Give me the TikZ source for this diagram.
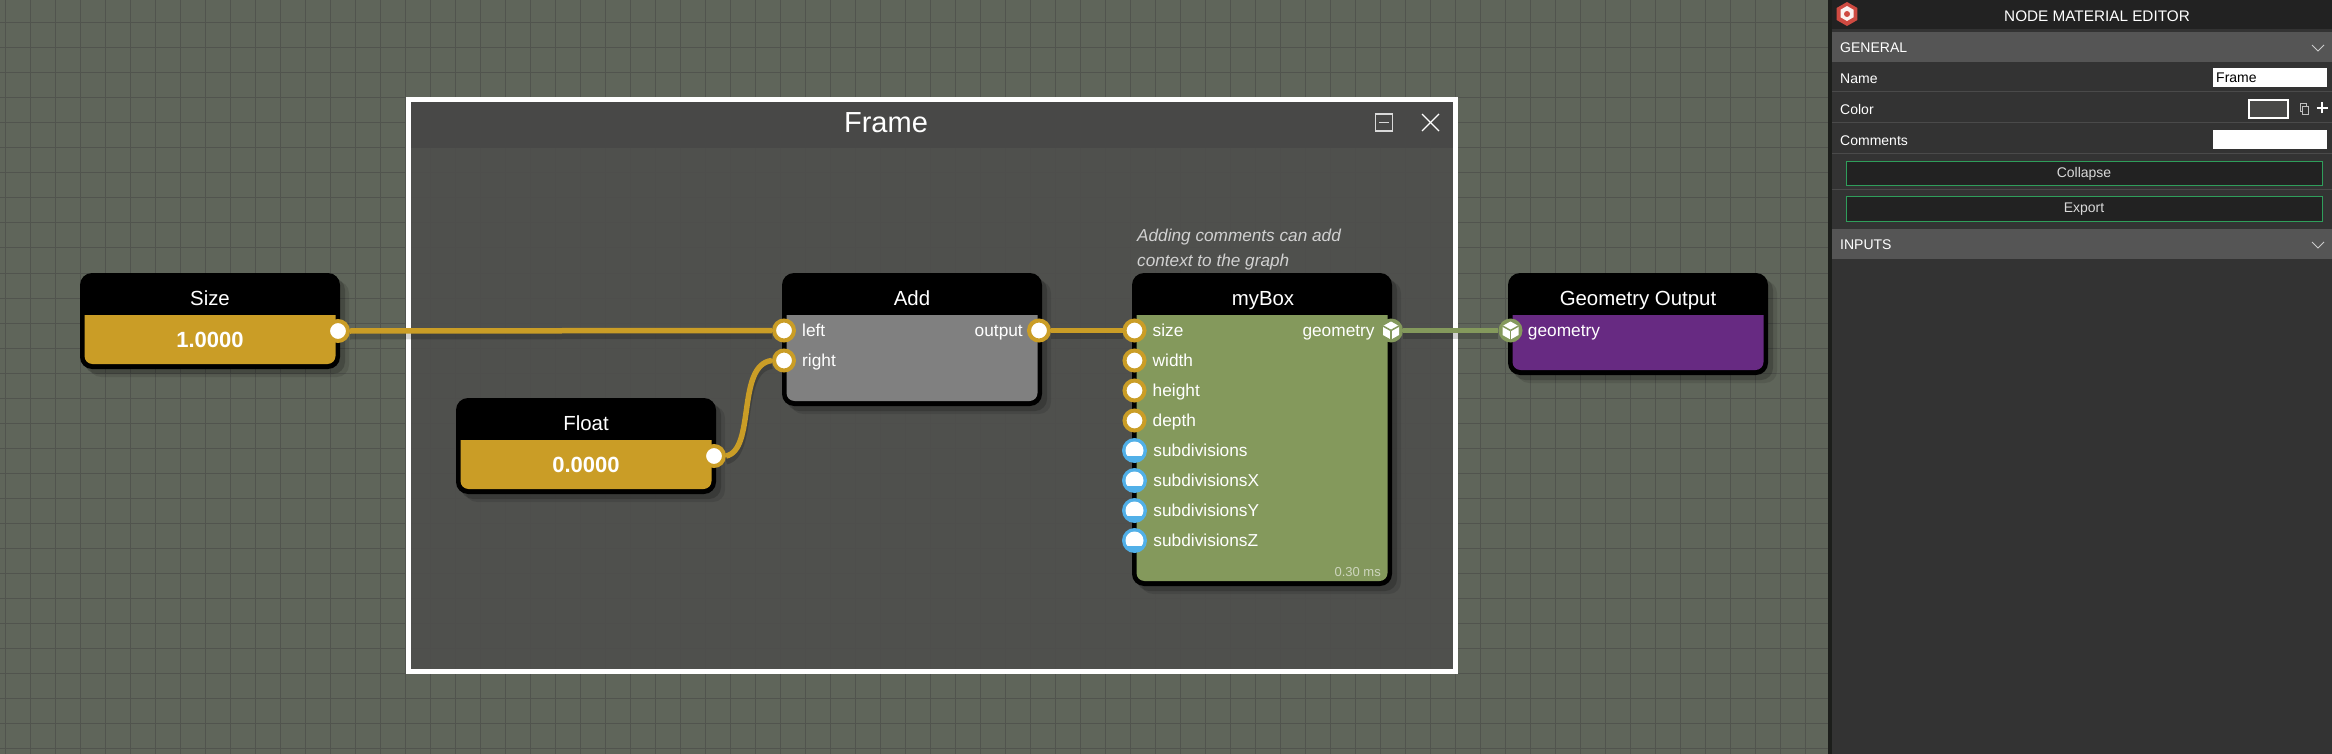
\documentclass[tikz,border=0pt]{standalone}
\usepackage{fontspec}
\setmainfont{Liberation Sans}
\usepackage{xcolor}
\usetikzlibrary{positioning,shapes.geometric,shadows}
\definecolor{gridbg}{HTML}{5F655A}
\definecolor{gridline}{HTML}{51544E}
\definecolor{framefill}{HTML}{4E4E4C}
\definecolor{framehead}{HTML}{484847}
\definecolor{gold}{HTML}{CA9D26}
\definecolor{addgrey}{HTML}{808080}
\definecolor{boxgreen}{HTML}{84995C}
\definecolor{outpurple}{HTML}{672A82}
\definecolor{intblue}{HTML}{51B0E8}
\definecolor{panelbg}{HTML}{333333}
\definecolor{panelhead}{HTML}{222222}
\definecolor{panelbar}{HTML}{555555}
\definecolor{panelrule}{HTML}{4A4A4A}
\definecolor{btngreen}{HTML}{2F9E5B}
\definecolor{logored}{HTML}{CF4A41}
\newcommand{\pxfont}[1]{\fontsize{#1}{#1}\selectfont}
\tikzset{
  blockbox/.style={
    rectangle, fill=black, rounded corners=12pt, anchor=north west,
    inner sep=0pt, outer sep=0pt,
    drop shadow={shadow xshift=9pt, shadow yshift=-8pt, opacity=.10, fill=black},
    drop shadow={shadow xshift=5pt, shadow yshift=-5pt, opacity=.18, fill=black}
  },
  titletext/.style={
    anchor=base, text=white, font=\pxfont{20.4}, inner sep=0pt
  },
  valuetext/.style={
    anchor=base, text=white, font=\pxfont{22}\bfseries, inner sep=0pt
  },
  porttext/.style={
    text=white, font=\pxfont{17.3}, inner sep=0pt, text height=14pt, text depth=2pt
  },
  goldport/.style={
    circle, draw=gold, fill=white, line width=4pt,
    minimum size=20pt, inner sep=0pt
  },
  blueport/.style={
    circle, fill=intblue, minimum size=25pt, inner sep=0pt,
    path picture={
      \begin{scope}
        \clip ([shift={(-12,-12)}]path picture bounding box.center) rectangle
          ([shift={(12,4.5)}]path picture bounding box.center);
        \fill[white] (path picture bounding box.center) circle (9);
      \end{scope}
    }
  },
  cubeport/.style={
    circle, fill=boxgreen, minimum size=24pt, inner sep=0pt,
    path picture={
      \coordinate (cc) at (path picture bounding box.center);
      \fill[white] ([shift={(0,-9)}]cc) -- ([shift={(8,-4.5)}]cc) -- ([shift={(8,4.5)}]cc)
        -- ([shift={(0,9)}]cc) -- ([shift={(-8,4.5)}]cc) -- ([shift={(-8,-4.5)}]cc) -- cycle;
      \draw[boxgreen, line width=1.5pt] (cc) -- ([shift={(0,9)}]cc);
      \draw[boxgreen, line width=1.5pt] (cc) -- ([shift={(8,-4.5)}]cc);
      \draw[boxgreen, line width=1.5pt] (cc) -- ([shift={(-8,-4.5)}]cc);
    }
  },
  wire/.style={
    line width=5.5pt, color=#1,
    preaction={draw=black, opacity=.18, line width=7pt, transform canvas={yshift=-5pt}}
  },
  wire/.default=gold,
  panelbox/.style={
    rectangle, anchor=north west, inner sep=0pt, outer sep=0pt, fill=#1
  },
  paneltext/.style={
    text=white, font=\pxfont{14}, inner sep=0pt, text height=11pt, text depth=3pt
  },
  inputbox/.style={
    rectangle, anchor=north west, fill=white, minimum width=114pt, minimum height=19pt,
    inner sep=0pt, outer sep=0pt
  },
  actionbtn/.style={
    rectangle, anchor=north west, draw=btngreen, fill=panelhead, line width=1pt,
    minimum width=476pt, minimum height=24.5pt, inner sep=0pt,
    text=white!85!black, font=\pxfont{14}
  },
  iconline/.style={
    draw=white, line width=1.2pt
  },
}
\begin{document}
\begin{tikzpicture}[x=1pt, y=-1pt]

% Canvas and grid
\fill[gridbg] (0,0) rectangle (2332,754);
\useasboundingbox (0,0) rectangle (2332,754);
\foreach \gx in {0,...,73} {
  \draw[gridline, line width=1pt] (5+25*\gx,0) -- (5+25*\gx,754);
}
\foreach \gy in {0,...,29} {
  \draw[gridline, line width=1pt] (0,23+25*\gy) -- (1830,23+25*\gy);
}

% Frame
\node[rectangle, fill=framefill, fill opacity=.9, anchor=north west, inner sep=0pt, outer sep=0pt,
  minimum width=1047.5pt, minimum height=571.5pt] (frame) at (408,100) {};
\node[rectangle, fill=framehead, anchor=north west, inner sep=0pt, outer sep=0pt,
  minimum width=1047.5pt, minimum height=48pt] (framehdr) at (408,100) {};
\node[rectangle, draw=white, line width=5pt, anchor=north west, inner sep=0pt, outer sep=0pt,
  minimum width=1047.5pt, minimum height=571.5pt] (frameline) at (408,100) {};
\node[anchor=base, text=white, font=\pxfont{29}, inner sep=0pt] (frametitle) at (886,133) {Frame};
\node[rectangle, draw=white!85!black, line width=1.5pt, minimum size=17pt, inner sep=0pt] (minbtn) at (1384,122.5) {};
\draw[iconline, white!85!black] ([xshift=-5pt]minbtn.center) -- ([xshift=5pt]minbtn.center);
\coordinate (closebtn) at (1430.5,122.5);
\draw[iconline] ([shift={(-8.5,-8.5)}]closebtn) -- ([shift={(8.5,8.5)}]closebtn);
\draw[iconline] ([shift={(-8.5,8.5)}]closebtn) -- ([shift={(8.5,-8.5)}]closebtn);

% Size block
\node[blockbox, minimum width=260pt, minimum height=96pt] (sizebox) at (80,273) {};
\fill[gold] (84.5,315) -- (335.5,315) -- (335.5,340) [rounded corners=8pt] -- (335.5,364) -- (84.5,364) -- (84.5,340) [sharp corners] -- cycle;
\node[titletext] (sizetitle) at (210,305) {Size};
\node[valuetext] (sizevalue) at (210,347) {1.0000};
\node[goldport] (sizeout) at (338,331) {};

% Float block
\node[blockbox, minimum width=260pt, minimum height=96pt] (floatbox) at (456,398) {};
\fill[gold] (460.5,440) -- (711.5,440) -- (711.5,465) [rounded corners=8pt] -- (711.5,489) -- (460.5,489) -- (460.5,465) [sharp corners] -- cycle;
\node[titletext] (floattitle) at (586,430) {Float};
\node[valuetext] (floatvalue) at (586,472) {0.0000};
\node[goldport] (floatout) at (714,456) {};

% Add block
\node[blockbox, minimum width=260pt, minimum height=133pt] (addbox) at (782,273) {};
\fill[addgrey] (786.5,315) -- (1037.5,315) -- (1037.5,360) [rounded corners=8pt] -- (1037.5,401) -- (786.5,401) -- (786.5,360) [sharp corners] -- cycle;
\node[titletext] (addtitle) at (912,305) {Add};
\node[goldport] (addleft) at (784,330.5) {};
\node[goldport] (addright) at (784,360.5) {};
\node[goldport] (addout) at (1039,330.5) {};
\node[porttext, right=6pt of addleft] (addlefttext) {left};
\node[porttext, right=6pt of addright] (addrighttext) {right};
\node[porttext, left=4pt of addout] (addouttext) {output};

% myBox block
\node[anchor=north west, text=white!82!black, font=\pxfont{17.2}\itshape, align=left, inner sep=0pt] (boxcomment) at (1137,229) {Adding comments can add\\[8pt]context to the graph};
\node[blockbox, minimum width=260pt, minimum height=313pt] (boxbox) at (1132,273) {};
\fill[boxgreen] (1136.5,315) -- (1387.5,315) -- (1387.5,450) [rounded corners=8pt] -- (1387.5,581) -- (1136.5,581) -- (1136.5,450) [sharp corners] -- cycle;
\node[titletext] (boxtitle) at (1263,305) {myBox};
\node[goldport] (boxsize) at (1134.5,330.5) {};
\node[goldport] (boxwidth) at (1134.5,360.5) {};
\node[goldport] (boxheight) at (1134.5,390.5) {};
\node[goldport] (boxdepth) at (1134.5,420.5) {};
\node[blueport] (boxsub) at (1134.5,450.5) {};
\node[blueport] (boxsubx) at (1134.5,480.5) {};
\node[blueport] (boxsuby) at (1134.5,510.5) {};
\node[blueport] (boxsubz) at (1134.5,540.5) {};
\node[cubeport] (boxgeom) at (1391,330.5) {};
\node[porttext, right=6pt of boxsize] (boxsizetext) {size};
\node[porttext, right=6pt of boxwidth] (boxwidthtext) {width};
\node[porttext, right=6pt of boxheight] (boxheighttext) {height};
\node[porttext, right=6pt of boxdepth] (boxdepthtext) {depth};
\node[porttext, right=6pt of boxsub] (boxsubtext) {subdivisions};
\node[porttext, right=6pt of boxsubx] (boxsubxtext) {subdivisionsX};
\node[porttext, right=6pt of boxsuby] (boxsubytext) {subdivisionsY};
\node[porttext, right=6pt of boxsubz] (boxsubztext) {subdivisionsZ};
\node[porttext, left=4pt of boxgeom] (boxgeomtext) {geometry};
\node[anchor=base east, text=white!60!boxgreen, font=\pxfont{13}, inner sep=0pt] (boxtime) at (1381,576) {0.30 ms};

% Geometry Output block
\node[blockbox, minimum width=260pt, minimum height=102pt] (outbox) at (1508,273) {};
\fill[outpurple] (1512.5,315) -- (1763.5,315) -- (1763.5,340) [rounded corners=8pt] -- (1763.5,370) -- (1512.5,370) -- (1512.5,340) [sharp corners] -- cycle;
\node[titletext] (outtitle) at (1638,305) {Geometry Output};
\node[cubeport] (outgeom) at (1510.5,330.5) {};
\node[porttext, right=5pt of outgeom] (outgeomtext) {geometry};

% Connections
\draw[wire] (sizeout.east) -- (addleft.west);
\draw[wire] (addout.east) -- (boxsize.west);
\draw[wire=boxgreen] (boxgeom.east) -- (outgeom.west);
\draw[wire] (floatout.east) .. controls +(30,-6) and +(-36,4) .. (addright.west);

% Side panel
\node[panelbox=black!70!gridbg, minimum width=4pt, minimum height=754pt] (panelstrip) at (1828,0) {};
\node[panelbox=panelbg, minimum width=500pt, minimum height=754pt] (panel) at (1832,0) {};
\node[panelbox=panelhead, minimum width=500pt, minimum height=29pt] (panelhdr) at (1832,0) {};
\node[anchor=center, text=white, font=\pxfont{15.3}, inner sep=0pt] (paneltitle) at (2097,16) {NODE MATERIAL EDITOR};
\node[regular polygon, regular polygon sides=6, shape border rotate=30, fill=logored, minimum size=24pt, inner sep=0pt] (logo) at (1847,14) {};
\node[regular polygon, regular polygon sides=6, shape border rotate=30, fill=white!92!logored, minimum size=15pt, inner sep=0pt] (logoin) at (1847,13.5) {};
\node[circle, fill=logored, minimum size=6pt, inner sep=0pt] (logodot) at (1847,14) {};

\node[panelbox=panelbar, minimum width=500pt, minimum height=30pt] (generalbar) at (1832,32) {};
\node[paneltext, anchor=west] (generaltext) at (1840,49) {GENERAL};
\node[panelbox=panelbar, minimum width=500pt, minimum height=30pt] (inputsbar) at (1832,229) {};
\node[paneltext, anchor=west] (inputstext) at (1840,246) {INPUTS};
\coordinate (chevtop) at (2318,48);
\coordinate (chevbot) at (2318,245);
\draw[draw=white!80!black, line width=1pt] ([shift={(-6,-3)}]chevtop) -- ([shift={(0,3)}]chevtop) -- ([shift={(6,-3)}]chevtop);
\draw[draw=white!80!black, line width=1pt] ([shift={(-6,-3)}]chevbot) -- ([shift={(0,3)}]chevbot) -- ([shift={(6,-3)}]chevbot);

\node[paneltext, anchor=west] (nametext) at (1840,79.5) {Name};
\node[paneltext, anchor=west] (colortext) at (1840,110.5) {Color};
\node[paneltext, anchor=west] (commentstext) at (1840,141.5) {Comments};
\foreach \ry in {92,123,154,190} {
  \draw[panelrule, line width=1pt] (1832,\ry) -- (2332,\ry);
}
\node[inputbox] (namebox) at (2213,68) {};
\node[anchor=west, text=black, font=\pxfont{14}, inner sep=0pt] (nameval) at (2216,78) {Frame};
\node[rectangle, draw=white, fill=framehead, line width=2pt, anchor=north west, minimum width=39pt, minimum height=18pt, inner sep=0pt] (colorswatch) at (2248,99) {};
\node[rectangle, draw=white!75!black, line width=.8pt, minimum width=6pt, minimum height=8pt, inner sep=0pt] (copyback) at (2303,107) {};
\node[rectangle, draw=white!75!black, fill=panelbg, line width=.8pt, minimum width=6pt, minimum height=8pt, inner sep=0pt] (copyfront) at (2305.5,110) {};
\coordinate (plusicon) at (2322,108);
\draw[draw=white, line width=2pt] ([xshift=-5.5pt]plusicon) -- ([xshift=5.5pt]plusicon);
\draw[draw=white, line width=2pt] ([yshift=-5.5pt]plusicon) -- ([yshift=5.5pt]plusicon);
\node[inputbox] (commentsbox) at (2213,130) {};
\node[actionbtn] (collapsebtn) at (1845.5,161) {Collapse};
\node[actionbtn] (exportbtn) at (1845.5,196.5) {Export};

\end{tikzpicture}
\end{document}
